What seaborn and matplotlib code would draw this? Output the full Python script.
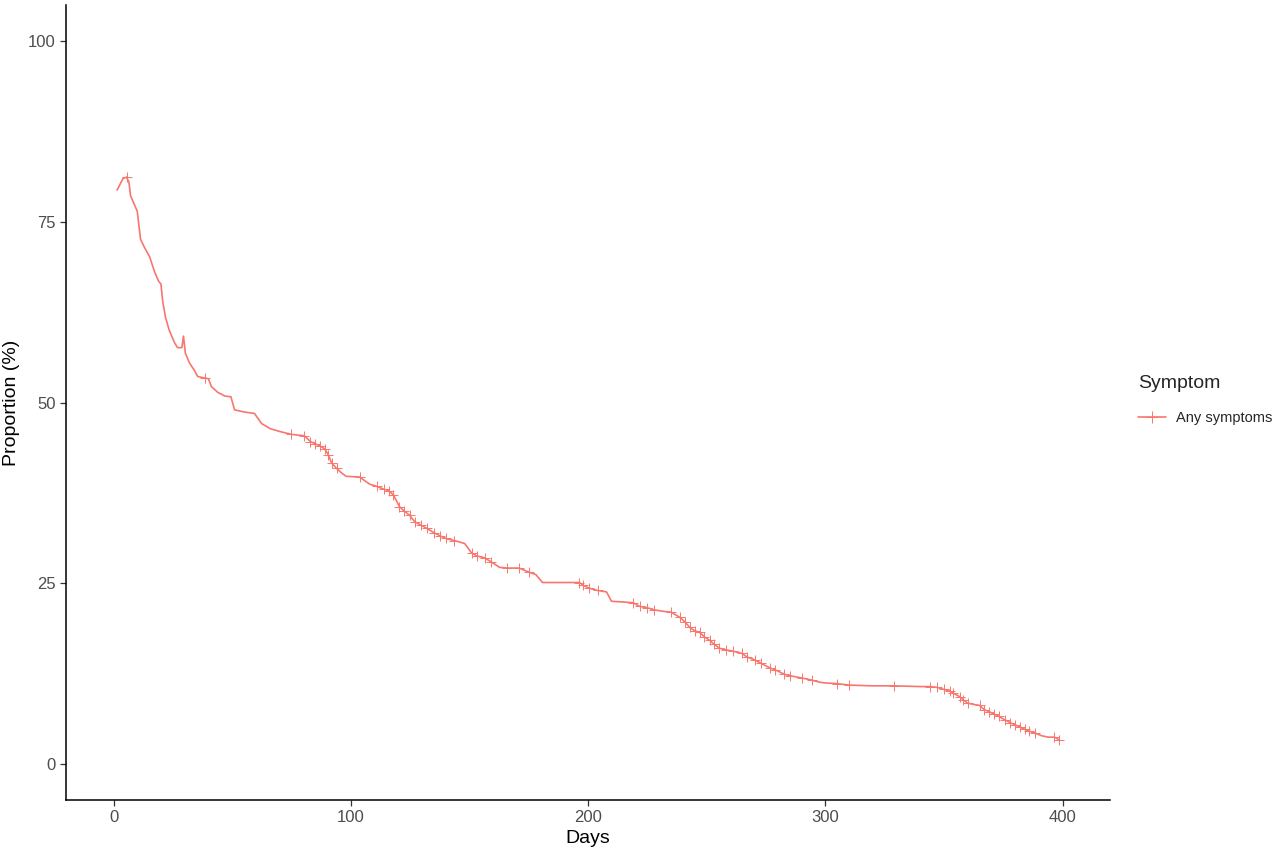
import matplotlib
matplotlib.use('Agg')
import matplotlib.pyplot as plt
from matplotlib.lines import Line2D
import pandas
import seaborn as sns

# days since onset, proportion with symptoms (%), censoring mark (1 = "+")
dias = [1.5, 4, 5.5, 6.5, 7.2, 9.3, 10, 11.4, 13, 15.2, 17.3, 19, 20, 20.7, 21.9, 23.5, 25.7, 27, 28.8,
        29.5, 30.3, 32, 34, 35.5, 38.4, 40, 41.3, 44, 47, 49.5, 51, 55, 59.4, 62.4, 66, 70, 75, 80.5,
        83, 85, 87, 89, 90.5, 92, 94, 96, 98, 103.7, 108, 111, 114, 116, 118, 120.5, 122.5, 124.8, 127,
        129.8, 132, 135, 137.4, 140, 143.7, 148, 150.9, 153, 156.4, 159, 162.7, 166, 171, 175.3, 178,
        180.8, 190, 196.4, 198, 200.6, 204, 207.8, 209.9, 215, 219, 221.7, 225, 228, 232, 235, 238.6,
        241, 242.8, 245, 247, 249, 251.2, 253, 255.4, 258, 261, 264.7, 267, 270.2, 273, 276.5, 279,
        282.8, 285, 290, 294.2, 297.6, 300, 305, 310.2, 320, 329, 340, 344, 347, 350, 352.4, 354,
        356.6, 358, 360, 363, 365, 367, 369.2, 371, 373, 375.6, 378, 380, 381.9, 384, 386, 388.2,
        391.1, 394, 396.6, 398.7]
proporcao = [79.4, 81.0, 81.2, 80.5, 78.6, 77.0, 76.5, 72.6, 71.5, 70.2, 68.1, 66.8, 66.4, 64.1, 61.8,
             60.0, 58.3, 57.6, 57.6, 59.2, 56.8, 55.5, 54.5, 53.6, 53.4, 53.3, 52.2, 51.4, 50.9, 50.8,
             49.0, 48.7, 48.5, 47.1, 46.4, 46.0, 45.6, 45.4, 44.6, 44.3, 44.0, 43.6, 42.8, 41.6, 40.9,
             40.3, 39.8, 39.7, 38.7, 38.4, 38.0, 37.8, 37.2, 35.6, 35.0, 34.4, 33.5, 33.0, 32.6, 32.0,
             31.6, 31.2, 30.9, 30.5, 29.2, 28.8, 28.5, 28.0, 27.2, 27.1, 27.1, 26.5, 26.2, 25.1, 25.1,
             25.1, 24.7, 24.3, 24.0, 23.8, 22.5, 22.4, 22.3, 21.8, 21.6, 21.3, 21.1, 21.0, 20.3, 19.6,
             18.9, 18.4, 18.2, 17.6, 17.1, 16.6, 16.0, 15.8, 15.6, 15.3, 14.8, 14.4, 13.9, 13.3, 13.0,
             12.4, 12.2, 11.9, 11.6, 11.3, 11.2, 11.1, 10.9, 10.8, 10.8, 10.7, 10.7, 10.6, 10.3, 10.1,
             9.8, 9.3, 8.9, 8.4, 8.2, 8.1, 7.5, 7.2, 6.9, 6.6, 6.1, 5.7, 5.4, 5.1, 4.8, 4.5, 4.3, 3.9,
             3.7, 3.7, 3.3]
censura = [0, 0, 1, 0, 0, 0, 0, 0, 0, 0, 0, 0, 0, 0, 0, 0, 0, 0, 0, 0, 0, 0, 0, 0, 1, 0, 0, 0, 0, 0,
           0, 0, 0, 0, 0, 0, 1, 1, 1, 1, 1, 1, 1, 1, 1, 0, 0, 1, 0, 1, 1, 1, 1, 1, 1, 1, 1, 1, 1, 1,
           1, 1, 1, 0, 1, 1, 1, 1, 0, 1, 1, 1, 0, 0, 0, 1, 1, 1, 1, 0, 0, 0, 1, 1, 1, 1, 0, 1, 1, 1,
           1, 1, 1, 1, 1, 1, 1, 1, 1, 1, 1, 1, 1, 1, 1, 1, 1, 1, 1, 0, 0, 1, 1, 0, 1, 0, 1, 1, 1, 1,
           1, 1, 1, 1, 0, 1, 1, 1, 1, 1, 1, 1, 1, 1, 1, 1, 1, 0, 0, 1, 1]

cor = '#F8766D'

df = pandas.DataFrame({'dias': dias, 'proporcao': proporcao, 'censura': censura})

sns.set_style('white')
plt.rcParams['font.family'] = ['Liberation Sans', 'DejaVu Sans']

fig = plt.figure(figsize=(12.8, 8.56), dpi=100)
ax = fig.add_axes([0.0516, 0.0654, 0.8156, 0.9286])

sns.lineplot(data=df, x='dias', y='proporcao', color=cor, linewidth=1.2, ax=ax, sort=False)
sns.scatterplot(data=df.loc[df['censura'] == 1], x='dias', y='proporcao', color=cor,
                marker='+', s=55, linewidth=0.7, ax=ax, legend=False)

ax.set_xlim(-20, 420)
ax.set_ylim(-5, 105)
ax.set_xticks([0, 100, 200, 300, 400])
ax.set_yticks([0, 25, 50, 75, 100])
ax.set_xlabel('Days', fontsize=14, color='black', labelpad=3)
ax.set_ylabel('Proportion (%)', fontsize=14, color='black', labelpad=6)
ax.tick_params(axis='both', labelsize=12, labelcolor='#4D4D4D', colors='#333333',
               length=4, width=0.9, bottom=True, left=True)
for lado in ['top', 'right']:
    ax.spines[lado].set_visible(False)
for lado in ['left', 'bottom']:
    ax.spines[lado].set_color('black')
    ax.spines[lado].set_linewidth(1.1)

handle = Line2D([], [], color=cor, linewidth=1.2, marker='+', markersize=8, markeredgewidth=0.7)
leg = fig.legend([handle], ['Any symptoms'], title='Symptom', loc='center left',
                 bbox_to_anchor=(0.887, 0.533), frameon=False, fontsize=10.5,
                 title_fontsize=14, handlelength=1.9, handletextpad=0.7, alignment='left',
                 borderaxespad=0, borderpad=0.2, labelspacing=1.3)

fig.savefig('out.png', dpi=100)
